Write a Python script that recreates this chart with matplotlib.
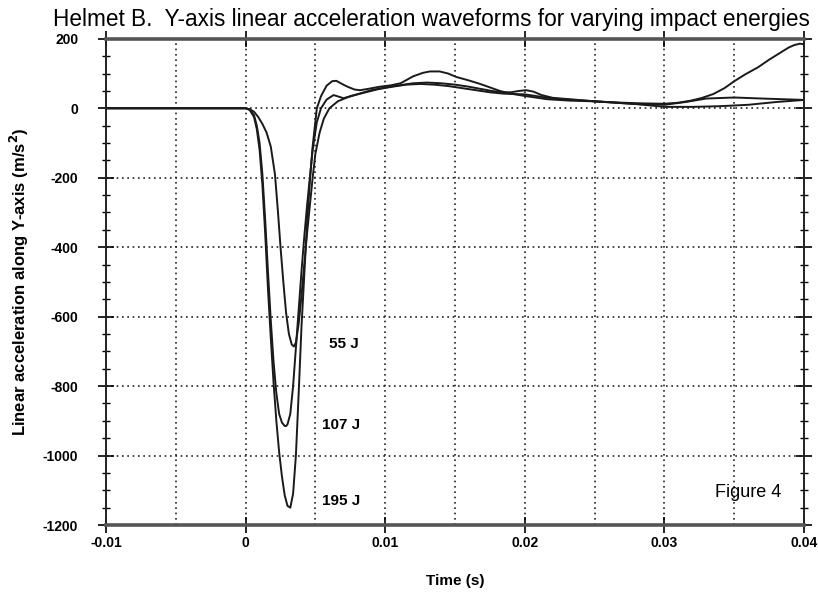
import numpy as np
import matplotlib.pyplot as plt
from matplotlib.ticker import MultipleLocator

plt.rcParams['font.family'] = ['Liberation Sans', 'DejaVu Sans']
plt.rcParams['axes.unicode_minus'] = False

# waveform samples (time in s, acceleration in m/s^2)
t_195 = [-0.01, 0.0, 0.0003, 0.0006, 0.0008, 0.001, 0.0012, 0.0014, 0.0016, 0.0018,
         0.002, 0.0022, 0.0024, 0.0026, 0.0028, 0.003, 0.0032, 0.0034, 0.0036, 0.0038,
         0.004, 0.0042, 0.0044, 0.0046, 0.0048, 0.0051, 0.0054, 0.0058, 0.0062, 0.0065,
         0.0069, 0.0073, 0.0078, 0.0082, 0.0088, 0.0096, 0.0104, 0.0111, 0.012, 0.0127,
         0.0132, 0.0139, 0.0145, 0.0151, 0.016, 0.0168, 0.0175, 0.0182, 0.019, 0.0199,
         0.0216, 0.0232, 0.0249, 0.027, 0.0285, 0.03, 0.031, 0.0319, 0.0327, 0.0335,
         0.0343, 0.035, 0.0358, 0.0367, 0.0375, 0.0383, 0.0389, 0.0393, 0.0397, 0.04]
a_195 = [0, 0, -5, -25, -60, -120, -220, -360, -520, -660,
         -790, -900, -990, -1060, -1115, -1145, -1150, -1110, -1000, -820,
         -630, -480, -330, -210, -110, 0, 35, 65, 78, 79,
         70, 62, 54, 52, 56, 62, 66, 72, 92, 102,
         106, 106, 100, 90, 80, 70, 60, 50, 42, 36,
         26, 22, 20, 16, 14, 13, 16, 22, 30, 41,
         58, 78, 98, 118, 140, 160, 175, 182, 186, 184]

t_107 = [-0.01, 0.0, 0.0003, 0.0006, 0.0008, 0.001, 0.0012, 0.0014, 0.0016, 0.0018,
         0.002, 0.0022, 0.0024, 0.0026, 0.0028, 0.0029, 0.003, 0.0032, 0.0034, 0.0036,
         0.0038, 0.004, 0.0042, 0.0044, 0.0046, 0.0048, 0.0051, 0.0054, 0.0058, 0.0063,
         0.0067, 0.007, 0.0075, 0.0084, 0.009, 0.01, 0.011, 0.012, 0.013, 0.014,
         0.015, 0.016, 0.0168, 0.0176, 0.0184, 0.019, 0.0196, 0.0201, 0.0206, 0.0212,
         0.022, 0.025, 0.028, 0.03, 0.0315, 0.033, 0.035, 0.037, 0.0385, 0.04]
a_107 = [0, 0, -4, -20, -50, -100, -190, -320, -470, -610,
         -730, -820, -880, -905, -915, -915, -910, -880, -800, -690,
         -580, -470, -370, -280, -200, -120, -40, 0, 25, 38,
         33, 29, 34, 45, 52, 60, 66, 72, 74, 72,
         68, 62, 56, 50, 46, 46, 50, 52, 48, 38,
         30, 20, 12, 10, 18, 28, 31, 28, 26, 24]

t_55 = [-0.01, 0.0, 0.0003, 0.0006, 0.0009, 0.0012, 0.0015, 0.0018, 0.0021, 0.0023,
        0.0025, 0.0027, 0.0029, 0.0031, 0.0033, 0.00345, 0.0036, 0.0038, 0.004, 0.0042,
        0.0044, 0.0046, 0.0048, 0.005, 0.0053, 0.0056, 0.006, 0.0066, 0.0075, 0.0085,
        0.0095, 0.0105, 0.0115, 0.0125, 0.0135, 0.0145, 0.0155, 0.0165, 0.0175, 0.0185,
        0.02, 0.022, 0.025, 0.028, 0.03, 0.032, 0.034, 0.036, 0.038, 0.04]
a_55 = [0, 0, -3, -10, -25, -45, -70, -110, -190, -290,
        -400, -500, -590, -650, -680, -686, -675, -620, -540, -450,
        -360, -280, -200, -130, -70, -30, 0, 20, 35, 45,
        55, 62, 68, 70, 68, 64, 58, 52, 46, 42,
        40, 28, 20, 12, 4, 4, 6, 10, 18, 24]

energy_labels = ['55 J', '107 J', '195 J']
label_t = [0.006, 0.0055, 0.0055]
label_a = [-680, -912, -1130]

fig = plt.figure(figsize=(8.18, 5.97), dpi=100)
ax = fig.add_axes([0.1296, 0.1206, 0.8534, 0.8144])

for t, a in [(t_55, a_55), (t_107, a_107), (t_195, a_195)]:
    ax.plot(t, a, color='#1a1a1a', lw=1.4, zorder=3)

for lab, tx, ay in zip(energy_labels, label_t, label_a):
    ax.text(tx, ay, lab, fontsize=11, fontweight='bold', va='center', ha='left')

ax.text(0.036, -1106, 'Figure 4', fontsize=13, ha='center', va='center')

ax.set_xlim(-0.01, 0.04)
ax.set_ylim(-1200, 200)
ax.xaxis.set_major_locator(MultipleLocator(0.01))
ax.xaxis.set_minor_locator(MultipleLocator(0.005))
ax.yaxis.set_major_locator(MultipleLocator(200))
ax.yaxis.set_minor_locator(MultipleLocator(50))
ax.set_xticks([-0.01, 0, 0.01, 0.02, 0.03, 0.04])
ax.set_xticklabels(['-0.01', '0', '0.01', '0.02', '0.03', '0.04'])

ax.grid(True, which='both', axis='x', color='#222222', ls=(0, (1, 2.2)), lw=1.2)
ax.grid(True, which='major', axis='y', color='#222222', ls=(0, (1, 2.2)), lw=1.2)

ax.tick_params(axis='x', which='major', direction='inout', length=12, width=1.2,
               top=True, pad=2, labelsize=10)
ax.tick_params(axis='x', which='minor', length=0)
ax.tick_params(axis='y', which='major', direction='inout', length=12, width=1.2,
               right=True, pad=14, labelsize=10)
ax.tick_params(axis='y', which='minor', direction='inout', length=6, width=1.0,
               right=True)
for lab in ax.get_xticklabels() + ax.get_yticklabels():
    lab.set_fontweight('bold')

for side in ['top', 'bottom']:
    ax.spines[side].set_color('#555555')
    ax.spines[side].set_linewidth(2.6)
for side in ['left', 'right']:
    ax.spines[side].set_color('#222222')
    ax.spines[side].set_linewidth(1.4)

ax.set_xlabel('Time (s)', fontsize=11, fontweight='bold', labelpad=17)
ax.set_ylabel('Linear acceleration along Y-axis (m/s$^{\\mathbf{2}}$)', fontsize=12,
              fontweight='bold')
ax.yaxis.set_label_coords(-0.108, 0.5)

fig.text(0.528, 0.968, 'Helmet B.  Y-axis linear acceleration waveforms for varying impact energies',
         fontsize=16.3, ha='center', va='center')

fig.savefig('out.png', dpi=100)
